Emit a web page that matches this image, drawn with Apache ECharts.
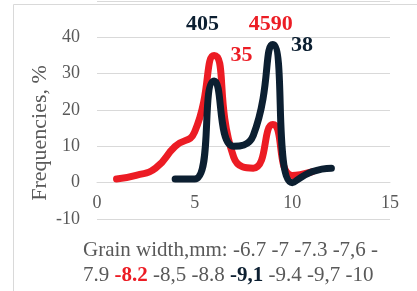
<!DOCTYPE html>
<html><head><meta charset="utf-8">
<script src="https://cdn.jsdelivr.net/npm/echarts@6/dist/echarts.min.js"></script>
<style>html,body{margin:0;padding:0;background:#fff}#c{width:417px;height:291px}</style>
</head><body><div id="c"></div>
<script>
const redX = [1, 2, 3, 4, 5, 6, 7, 8, 9, 10, 11];
const redY = [1, 2, 4, 10, 14, 35, 7, 4, 16, 2, 3];
const darkX = [4, 5, 6, 7, 8, 9, 10, 11, 12];
const darkY = [1, 1, 28, 10, 13, 38, 0, 3, 4];
const redNotes = [{x: 8.9, y: 43.5, t: '4590'}, {x: 7.4, y: 35, t: '35'}];
const darkNotes = [{x: 5.4, y: 43.5, t: '405'}, {x: 10.5, y: 37.8, t: '38'}];
const yTicks = [-10, 0, 10, 20, 30, 40];
const RED = '#ec1c24', DARK = '#0c1f31', GRAY = '#595959', SERIF = '"Liberation Serif", "Times New Roman", serif';
const toPts = (xs, ys) => xs.map((x, i) => [x, ys[i]]);
const noteSeries = (arr, col) => ({
  type: 'scatter', silent: true, symbol: 'circle', symbolSize: 2, z: 5,
  itemStyle: {color: 'rgba(0,0,0,0)', opacity: 1},
  label: {show: true, position: 'inside', color: col, fontFamily: SERIF, fontWeight: 'bold', fontSize: 22, formatter: '{b}'},
  data: arr.map(n => ({name: n.t, value: [n.x, n.y]}))
});
const chart = echarts.init(document.getElementById('c'), null, {renderer: 'canvas'});
chart.setOption({
  animation: false,
  grid: {left: 97, right: 27, top: 1, bottom: 72},
  xAxis: {type: 'value', min: 0, max: 15, interval: 5, offset: -36.3,
    axisLine: {show: true, onZero: false, lineStyle: {color: '#d9d9d9', width: 1}},
    axisTick: {show: false}, splitLine: {show: false},
    axisLabel: {color: GRAY, fontFamily: SERIF, fontSize: 18, margin: 12}},
  yAxis: {type: 'value', min: -10, max: 50, interval: 10,
    axisLine: {show: false}, axisTick: {show: false},
    splitLine: {lineStyle: {color: '#d9d9d9', width: 1}},
    axisLabel: {color: GRAY, fontFamily: SERIF, fontSize: 18, margin: 17,
      formatter: v => yTicks.includes(v) ? String(v) : ''}},
  series: [
    {type: 'line', data: toPts(redX, redY), smooth: 0.55, symbol: 'none',
      lineStyle: {color: RED, width: 7, cap: 'round', join: 'round'}, z: 2},
    {type: 'line', data: toPts(darkX, darkY), smooth: 0.55, symbol: 'none',
      lineStyle: {color: DARK, width: 7, cap: 'round', join: 'round'}, z: 3},
    noteSeries(redNotes, RED),
    noteSeries(darkNotes, DARK)
  ],
  graphic: [
    {type: 'polyline', shape: {points: [[13.5, 300], [13.5, 4.5], [420, 4.5]]}, style: {stroke: '#d9d9d9', fill: null, lineWidth: 1}, silent: true},
    {type: 'text', x: 40, y: 133, rotation: Math.PI / 2, style: {text: 'Frequencies, %', fill: GRAY, font: '22px ' + SERIF, align: 'center', verticalAlign: 'middle'}},
    {type: 'text', left: 83, top: 240, style: {text: 'Grain width,mm: -6.7 -7 -7.3 -7,6 -', fill: GRAY, font: '21px ' + SERIF}},
    {type: 'text', left: 83, top: 265, style: {
      text: '{g|7.9 }{r|-8.2}{g| -8,5 -8.8 }{d|-9,1}{g| -9.4 -9,7 -10}',
      rich: {g: {fill: GRAY, font: '21px ' + SERIF}, r: {fill: RED, font: 'bold 21px ' + SERIF}, d: {fill: DARK, font: 'bold 21px ' + SERIF}}}}
  ]
});
</script></body></html>
